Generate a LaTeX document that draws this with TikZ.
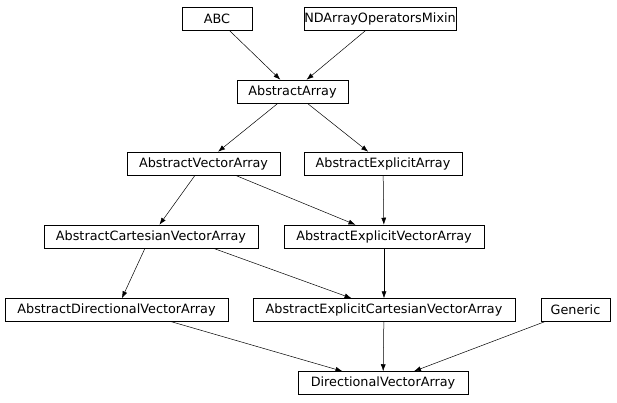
\documentclass[tikz,border=0pt]{standalone}
\usepackage{fontspec}
\setmainfont{DejaVu Sans}
\usetikzlibrary{arrows.meta}
\begin{document}
\begin{tikzpicture}[x=1pt,y=-1pt,
  cls/.style={draw,line width=0.5pt,inner sep=0pt,minimum height=23pt,font=\fontsize{12.8}{14}\selectfont},
  inh/.style={draw,line width=0.5pt,-{Latex[length=7pt,width=5pt]}}]
\useasboundingbox (0,0) rectangle (617,403);
\node[cls,minimum width=70pt] (abc) at (217,18.5) {ABC};
\node[cls,minimum width=152pt] (nd) at (380,18.5) {NDArrayOperatorsMixin};
\node[cls,minimum width=111pt] (aa) at (292.5,91.5) {AbstractArray};
\node[cls,minimum width=153pt] (ava) at (203.5,163.5) {AbstractVectorArray};
\node[cls,minimum width=158pt] (aea) at (383,163.5) {AbstractExplicitArray};
\node[cls,minimum width=214pt] (acva) at (151,236.5) {AbstractCartesianVectorArray};
\node[cls,minimum width=200pt] (aeva) at (384,236.5) {AbstractExplicitVectorArray};
\node[cls,minimum width=223pt] (adva) at (116.5,310) {AbstractDirectionalVectorArray};
\node[cls,minimum width=262pt] (aecva) at (384,310) {AbstractExplicitCartesianVectorArray};
\node[cls,minimum width=69pt] (gen) at (575.5,310) {Generic};
\node[cls,minimum width=170pt] (dva) at (383,383) {DirectionalVectorArray};
\path (ava.south east) ++(-45,0) coordinate (t1);
\path (acva.south) ++(-6,0) coordinate (t2);
\path (acva.south east) ++(-45,0) coordinate (t3);
\path (adva.south) ++(55,0) coordinate (t4);
\draw[inh] (abc) -- (aa);
\draw[inh] (nd) -- (aa);
\draw[inh] (aa) -- (ava);
\draw[inh] (aa) -- (aea);
\draw[inh] (ava) -- (acva);
\draw[inh] (t1) -- (aeva);
\draw[inh] (aea) -- (aeva);
\draw[inh] (t2) -- (adva);
\draw[inh] (t3) -- (aecva);
\draw[inh] (aeva) -- (aecva);
\draw[inh] (t4) -- (dva);
\draw[inh] (aecva) -- (dva);
\draw[inh] (gen) -- (dva);
\end{tikzpicture}
\end{document}
